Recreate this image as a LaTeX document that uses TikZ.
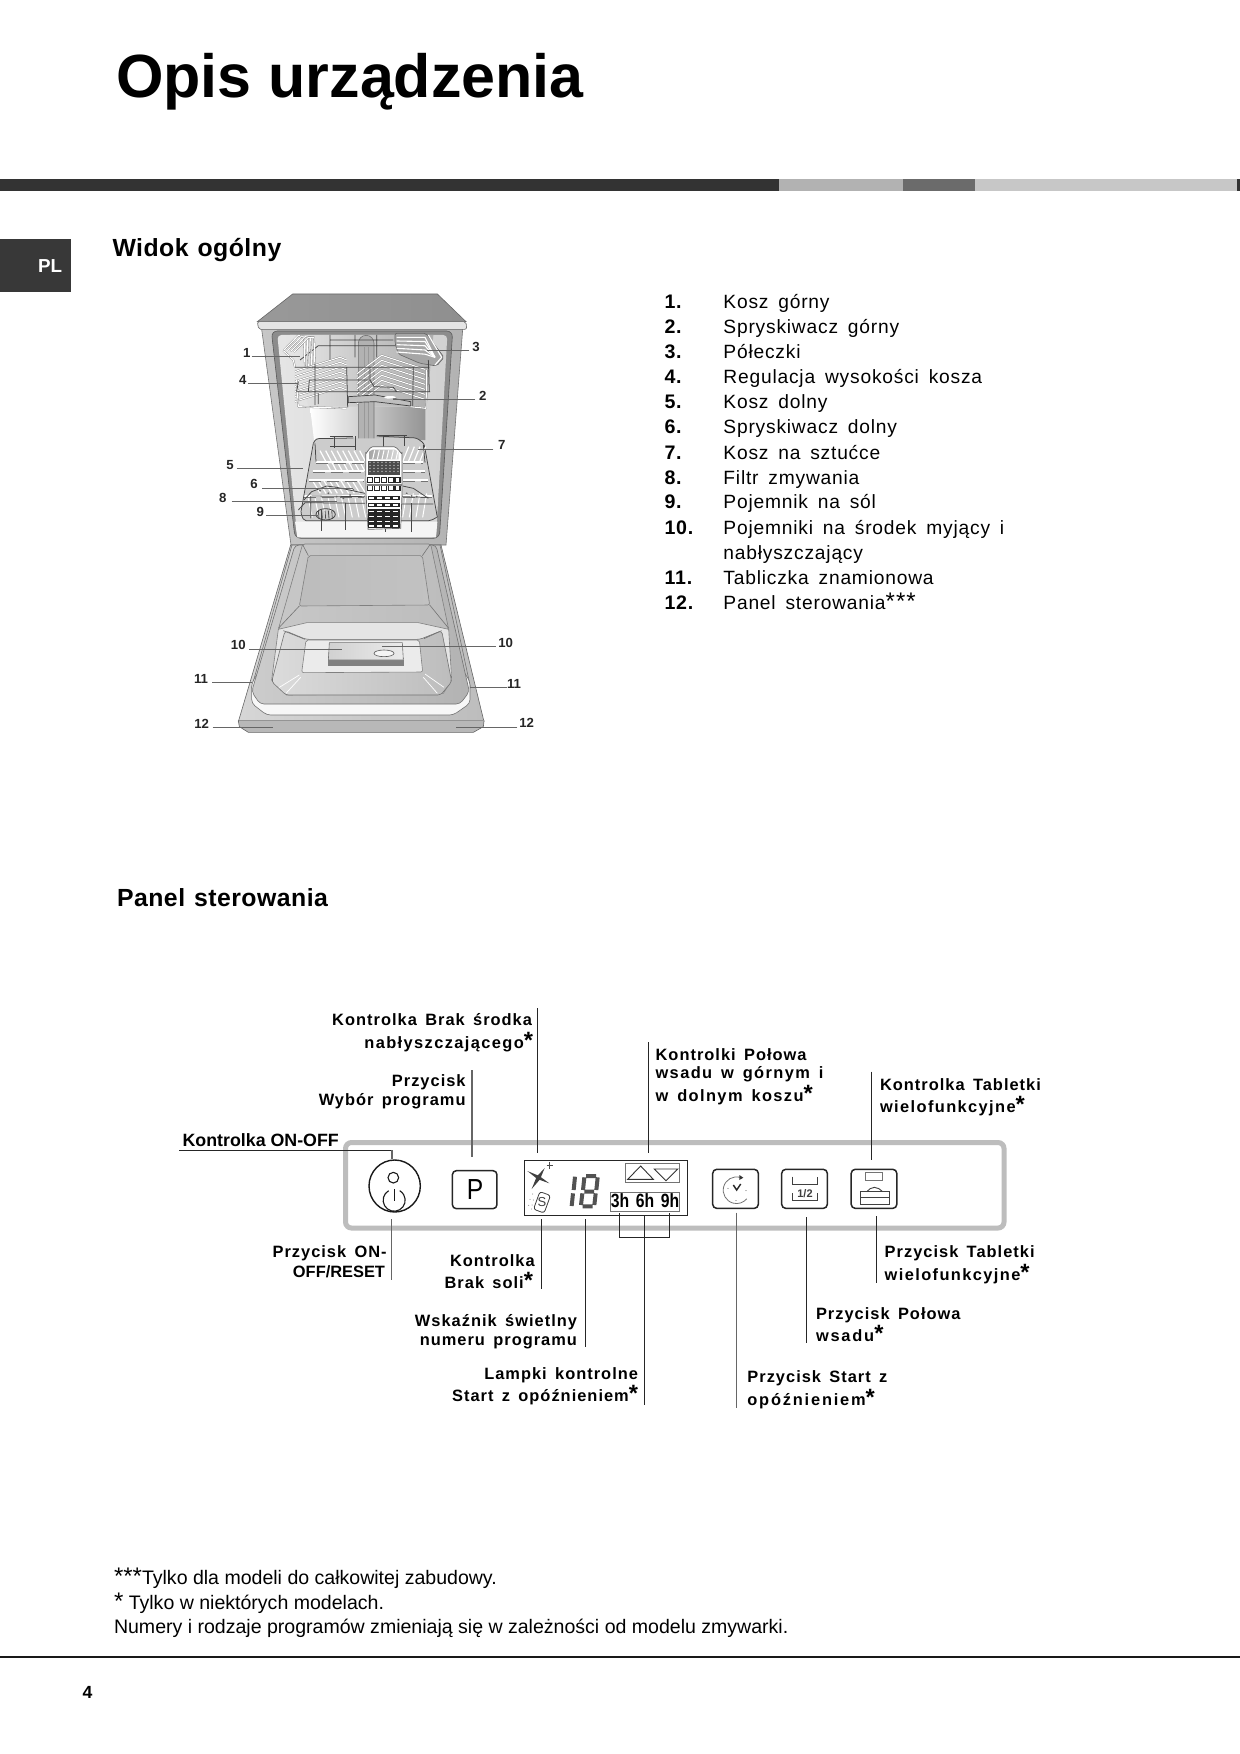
\documentclass[tikz,border=0pt]{standalone}
\usepackage{fontspec}
\setmainfont{Liberation Sans}
\newfontfamily\labfont{Liberation Sans}[LetterSpace=6.2,WordSpace=1.5]
\newfontfamily\labwfont{Liberation Sans}[LetterSpace=11,WordSpace=1.5]
\newfontfamily\labmfont{Liberation Sans}[LetterSpace=8.5,WordSpace=1.5]
\newfontfamily\listfont{Liberation Sans}[LetterSpace=4.2,WordSpace=1.6]
\newfontfamily\headfont{Liberation Sans}[LetterSpace=2,WordSpace=1.2]
\usetikzlibrary{arrows.meta}
\tikzset{
  txt/.style={inner sep=0pt,outer sep=0pt,anchor=base west},
  lab/.style={txt,font=\labfont\bfseries\fontsize{8.2}{10}\selectfont},
  labw/.style={txt,font=\labwfont\bfseries\fontsize{8.2}{10}\selectfont},
  labm/.style={txt,font=\labmfont\bfseries\fontsize{8.2}{10}\selectfont},
  tight/.style={txt,font=\bfseries\fontsize{8.2}{10}\selectfont},
  tightb/.style={txt,font=\bfseries\fontsize{8.9}{10}\selectfont},
  listnum/.style={txt,font=\listfont\bfseries\fontsize{9.8}{12}\selectfont},
  listtxt/.style={txt,font=\listfont\fontsize{9.6}{12}\selectfont},
  head/.style={txt,font=\headfont\bfseries\fontsize{12.4}{14}\selectfont},
  foot/.style={txt,font=\fontsize{9.77}{11}\selectfont},
  callnum/.style={inner sep=0pt,font=\bfseries\fontsize{6.6}{8}\selectfont,text=black!85},
  leader/.style={draw=black!85,line width=0.42pt},
  leaderg/.style={draw=black!60,line width=0.65pt},
  callline/.style={draw=black!60,line width=0.3pt},
  btn/.style={draw=black!85,line width=0.75pt,rounded corners=2pt,fill=white},
  wire/.style={white,line width=0.55pt,line join=round},
  wireg/.style={black!55,line width=0.85pt,line join=round},
  dk/.style={black!72,line width=0.38pt,line join=round},
  edge/.style={draw=black!55,line width=0.3pt,line join=round},
}
\newcommand\stx{{\fontsize{11.8}{12}\selectfont\labfont *}}
\newcommand\stn{{\fontsize{12}{12}\selectfont\mdseries ***}}
\newcommand\vlead[5][leader]{\coordinate (#2a) at (#3,#4);\coordinate (#2b) at (#3,#5);\draw[#1] (#2a) -- (#2b);}
\newcommand\callout[8]{\node[callnum] (#1) at (#2,#3) {#4};\coordinate (#1a) at (#5,#6);\coordinate (#1b) at (#7,#8);\draw[callline] (#1a) -- (#1b);}
\begin{document}
\begin{tikzpicture}[x=0.5pt,y=-0.5pt]
\useasboundingbox (0,0) rectangle (1240,1754);
\fill[white] (0,0) rectangle (1240,1754);
% ---- header
\node[txt,font=\bfseries\fontsize{30.5}{32}\selectfont] (title) at (116,98) {Opis urządzenia};
\fill[black!80] (0,179) rectangle (778.5,191);
\fill[black!30] (778.5,179) rectangle (903,191);
\fill[black!58] (903,179) rectangle (975,191);
\fill[black!22] (975,179) rectangle (1237,191);
\fill[black!80] (1237,179) rectangle (1240,191);
\fill[black!78] (0,239) rectangle (71,292);
\node[txt,text=white,font=\bfseries\fontsize{9.4}{10}\selectfont] (pl) at (38,273) {PL};
\node[head] (h1) at (112.5,257) {Widok ogólny};
\node[head] (h2) at (117,906) {Panel sterowania};
% ---- list
\foreach \n/\t/\y [count=\i] in {1./Kosz górny/309,2./Spryskiwacz górny/334,3./Półeczki/359,4./Regulacja wysokości kosza/384,5./Kosz dolny/409,6./Spryskiwacz dolny/434,7./Kosz na sztućce/459,8./Filtr zmywania/484,9./Pojemnik na sól/509,10./Pojemniki na środek myjący i/534,11./Tabliczka znamionowa/584}{
  \node[listnum] (ln\i) at (664.5,\y) {\n};
  \node[listtxt] (lt\i) at (723.4,\y) {\t};
}
\node[listtxt] (lt10b) at (723.4,559) {nabłyszczający};
\node[listnum] (ln12) at (664.5,609) {12.};
\node[listtxt] (lt12) at (723.4,609) {Panel sterowania\stn};
% ---- footnotes
\node[foot] (f1) at (114,1584.5) {\stn Tylko dla modeli do całkowitej zabudowy.};
\node[foot] (f2) at (114,1609) {{\fontsize{12}{12}\selectfont *} Tylko w niektórych modelach.};
\node[foot] (f3) at (114,1633) {Numery i rodzaje programów zmieniają się w zależności od modelu zmywarki.};
\draw[black!90,line width=1pt] (0,1657) -- (1240,1657);
\node[txt,font=\bfseries\fontsize{8.8}{10}\selectfont] (pg) at (82.5,1698) {4};
% ---- dishwasher (coordinates: zoomed 3x)
\begin{scope}[shift={(180,280)},x=0.1666667pt,y=-0.1666667pt]
 % top
 \shade[left color=black!40,middle color=black!14,right color=black!44,draw=black!60,line width=0.3pt] (338,42) -- (772,42) -- (858,125) -- (232,125) -- cycle;
 \filldraw[fill=black!10,draw=black!60,line width=0.3pt,rounded corners=1pt] (232,125) -- (858,125) -- (860,148) -- (236,148) -- cycle;
 % cabinet
 \shade[left color=black!22,right color=black!30,draw=black!55,line width=0.3pt] (245,148) -- (848,148) -- (798,795) -- (333,795) -- cycle;
 \filldraw[fill=black!45,draw=black!65,line width=0.3pt,rounded corners=3pt] (274,153) -- (818,153) -- (778,775) -- (345,775) -- cycle;
 \shade[left color=black!10,right color=black!18,rounded corners=2pt] (292,165) -- (802,165) -- (768,772) -- (352,772) -- cycle;
 \fill[black!4] (345,725) -- (772,725) -- (768,772) -- (352,772) -- cycle;
 \shade[left color=white,right color=black!42] (390,380) -- (736,380) -- (736,480) -- (402,480) -- cycle;
 \shade[left color=black!10,right color=black!32] (330,165) -- (760,165) -- (740,380) -- (385,380) -- cycle;
 % pipe
 \shade[left color=black!30,middle color=white,right color=black!30] (535,190) arc[start angle=180,end angle=360,x radius=23.5,y radius=24] -- (582,505) -- (535,505) -- cycle;
 \draw[edge] (535,190) arc[start angle=180,end angle=360,x radius=23.5,y radius=24] -- (582,505) (535,190) -- (535,505);
 \draw[black!40,line width=0.25pt] (552,200) -- (552,505) (566,200) -- (566,505);
 % rear rails upper
 \draw[dk] (415,197) -- (745,197) (450,180) -- (640,180) (450,165) -- (450,240) (525,165) -- (525,232) (590,165) -- (590,232) (415,197) -- (360,240);
 % left shelf
 \foreach \d in {0,10,20,30}{\draw[wireg] (312+\d,210+\d*0.2) -- (355+\d,166+\d*0.2) -- (372+\d,172) -- (375+\d,265);\draw[wire] (312+\d,210+\d*0.2) -- (355+\d,166+\d*0.2) -- (372+\d,172) -- (375+\d,265);}
 \draw[wireg] (310,212) -- (340,240) -- (345,262); \draw[wire] (310,212) -- (340,240) -- (345,262);
 % right shelf
 \filldraw[fill=black!35,draw=black!60,line width=0.3pt,rounded corners=1pt] (645,160) -- (738,160) -- (792,232) -- (770,258) -- (720,250) -- (655,222) -- (645,190) -- cycle;
 \foreach \d in {0,11,22,33,44}{\draw[wire] (650,172+\d) -- (735,172+\d*1.15) -- (765,232);}
 \draw[wire] (745,165) -- (785,232) -- (765,255);
 % plate racks
 \foreach \i in {0,...,6}{
  \begin{scope}[yshift=-2.5pt*\i]
   \draw[wireg] (345,275) -- (358,270) -- (480,232) -- (500,240);\draw[wire] (345,275) -- (358,270) -- (480,232) -- (500,240);
   \draw[wireg] (530,282) -- (605,226) -- (735,268);\draw[wire] (530,282) -- (605,226) -- (735,268);
  \end{scope}}
 \draw[wireg] (350,300) -- (355,380) -- (500,385);\draw[wire] (350,300) -- (355,380) -- (500,385);
 \draw[wireg] (740,270) -- (738,385) -- (690,380);\draw[wire] (740,270) -- (738,385) -- (690,380);
 % basket frame
 \draw[dk] (345,262) -- (748,262) (350,335) -- (750,335) (350,335) -- (355,305) (385,335) -- (388,300) -- (570,300) -- (582,320) -- (640,322) -- (650,335) (405,252) -- (405,375) (500,262) -- (503,382) (700,262) -- (698,378) (745,240) -- (748,335) (415,340) -- (415,372) (570,260) -- (570,300);
 % upper spray arm
 \filldraw[fill=black!25,draw=black!75,line width=0.35pt] (505,350) -- (585,345) -- (692,365) -- (692,378) -- (585,365) -- (505,368) -- cycle;
 \fill[white] (630,352) ellipse (18 and 4);
 % lower basket body
 \fill[black!20] (402,490) -- (408,476) -- (710,474) -- (732,490) -- (770,712) -- (752,722) -- (372,722) -- (362,700) -- cycle;
 % lower basket rear
 \draw[dk,rounded corners=1.3pt] (400,490) -- (408,476) -- (520,474) (590,468) -- (710,474) -- (732,490) -- (772,712);
 \draw[dk] (450,468) -- (520,468) (462,468) -- (462,505) (450,500) -- (525,500) (525,468) -- (525,510) (610,465) -- (610,500) (672,465) -- (672,498) (590,465) -- (680,465);
 % rows of tines
 \foreach \x in {420,437,...,540}{\draw[white,line width=0.6pt] (\x,512) -- (\x+32,572);}
 \foreach \x in {668,685,...,720}{\draw[white,line width=0.6pt] (\x+18,500) -- (\x,545);}
 \foreach \x in {395,412,...,545}{\draw[white,line width=0.6pt] (\x,598) -- (\x+26,640);}
 \foreach \x in {385,405,...,545}{\draw[white,line width=0.5pt] (\x,655) -- (\x+12,712);}
 \foreach \x in {680,700,...,750}{\draw[white,line width=0.5pt] (\x,640) -- (\x-12,712);}
 \foreach \y/\a/\b in {545/408/552,572/398/552,600/388/552,648/372/552,545/670/728,572/670/735,600/670/745,648/670/755}{\draw[white,line width=0.9pt] (\a,\y) -- (\b,\y);\draw[black!55,line width=0.3pt,dash pattern=on 6pt off 3pt] (\a,\y+5) -- (\b,\y+5);}
 % lower basket frame
 \draw[dk,rounded corners=1pt] (400,490) -- (362,700) -- (372,722) -- (752,722) -- (770,712);
 \draw[dk] (730,495) -- (735,548) (408,545) -- (405,490);
 \draw[dk] (395,648) -- (555,650) (665,650) -- (745,652) (355,690) -- (375,668) -- (555,670) (665,672) -- (760,672) (392,648) -- (392,715);
 \draw[dk] (372,660) -- (395,635) -- (440,618) -- (470,622) -- (555,640);
 \draw[dk] (668,618) -- (700,625) -- (745,655);
 \foreach \x/\y in {420/632,445/640,470/650,490/655,510/645,520/630,680/640,695/648,710/650}{\fill[black!60] (\x,\y) circle (3);}
 % legs
 \draw[dk,line width=0.55pt] (425,690) -- (425,752) (497,670) -- (497,750) (617,735) -- (617,755) (695,670) -- (695,755);
 % salt cap
 \draw[black!75,line width=0.4pt] (437,703) ellipse (29 and 17);
 \foreach \x in {415,425,...,460}{\draw[black!70,line width=0.4pt] (\x,692) -- (\x+2,716);}
 % cutlery basket
 \filldraw[fill=white,draw=black!60,line width=0.35pt] (557,530) -- (557,518) to[out=-90,in=180] (578,500) -- (642,500) to[out=0,in=-90] (666,518) -- (666,640) -- (662,745) -- (564,748) -- (558,640) -- cycle;
 \shade[left color=black!35,right color=black!15] (568,514) -- (578,509) -- (645,509) -- (656,516) -- (656,538) -- (568,538) -- cycle;
 \foreach \x in {578,592,...,650}{\draw[white,line width=0.5pt] (\x+6,511) -- (\x,538);}
 \fill[black!70] (563,542) rectangle (660,586);
 \foreach \x in {570,582,...,655}{\foreach \y in {547,556,...,582}{\fill[black!25] (\x,\y) circle (2.4);}}
 \foreach \x in {563,584,605,626,645}{\foreach \y in {592,616}{\filldraw[fill=white,draw=black!85,line width=0.8pt] (\x,\y) rectangle (\x+15,\y+15);}}
 \fill[black!50] (560,612) rectangle (666,617);
 \foreach \x in {566,590,614,638}{\foreach \y in {650,670,690,705,720,733}{\filldraw[fill=white,draw=black!85,line width=0.8pt] (\x,\y) rectangle (\x+19,\y+9);}}
 % door
 \shade[left color=black!16,right color=black!26,draw=black!60,line width=0.3pt] (332,795) -- (783,795) -- (912,1325) -- (175,1325) -- cycle;
 \draw[edge] (336,795) -- (214,1225) (780,795) -- (872,1225);
 \filldraw[fill=black!3,draw=black!55,line width=0.3pt,rounded corners=2pt] (215,1210) -- (215,1270) -- (260,1305) -- (820,1305) -- (870,1270) -- (870,1205) -- (805,1100) -- (280,1100) -- cycle;
 \shade[left color=black!20,middle color=black!8,right color=black!30,draw=black!55,line width=0.3pt,rounded corners=2pt] (345,795) -- (215,1235) -- (240,1272) -- (840,1272) -- (868,1235) -- (768,795) -- cycle;
 \shade[left color=black!22,middle color=black!6,right color=black!26,draw=black!50,line width=0.3pt,rounded corners=1pt] (368,792) -- (752,792) -- (806,1048) -- (295,1048) -- cycle;
 \shade[left color=black!26,middle color=black!5,right color=black!24,draw=black!50,line width=0.3pt,rounded corners=1pt] (385,827) -- (727,827) -- (749,975) -- (358,978) -- cycle;
 \draw[edge] (368,794) -- (385,827) (750,794) -- (727,827) (358,978) -- (295,1045) (749,975) -- (806,1045);
 \shade[left color=black!10,middle color=black!2,right color=black!10,draw=black!50,line width=0.3pt] (295,1048) -- (380,1028) -- (715,1028) -- (806,1048) -- (815,1200) -- (790,1240) -- (320,1245) -- (275,1200) -- cycle;
 \shade[left color=black!14,middle color=black!4,right color=black!26,draw=black!55,line width=0.3pt,rounded corners=1.5pt] (315,1052) -- (378,1078) -- (720,1078) -- (785,1052) -- (815,1205) -- (782,1245) -- (318,1245) -- (275,1205) -- cycle;
 \filldraw[fill=black!8,draw=black!50,line width=0.3pt,rounded corners=1pt] (378,1080) -- (718,1080) -- (728,1176) -- (365,1178) -- cycle;
 \fill[black!50] (445,1135) rectangle (671,1157);
 \shade[left color=black!18,right color=black!8,draw=black!55,line width=0.3pt] (448,1088) -- (667,1088) -- (670,1140) -- (445,1140) -- cycle;
 \draw[black!65,fill=black!4,line width=0.3pt] (612,1120) ellipse (30 and 10);
 \draw[white,line width=0.35pt] (358,1185) -- (298,1222) (362,1192) -- (318,1240) (735,1182) -- (792,1222) (730,1192) -- (772,1240);
 \draw[edge] (310,1052) -- (375,1078) (785,1052) -- (732,1076);
 % front lip
 \shade[left color=black!28,middle color=black!8,right color=black!28,draw=black!60,line width=0.3pt] (175,1322) -- (912,1322) -- (910,1340) -- (880,1357) -- (205,1357) -- (178,1340) -- cycle;
 \fill[black!42] (176,1321) rectangle (911,1324);
 % callouts
 \callout{c1}{200}{220}{1}{215}{230}{360}{230}
 \callout{c3}{888}{202}{3}{868}{210}{740}{210}
 \callout{c4}{188}{300}{4}{205}{310}{355}{310}
 \callout{c2}{908}{347}{2}{885}{358}{640}{358}
 \callout{c7}{965}{495}{7}{940}{507}{715}{507}
 \callout{c5}{150}{556}{5}{170}{565}{370}{565}
 \callout{c6}{222}{613}{6}{247}{625}{520}{625}
 \callout{c8}{128}{653}{8}{155}{665}{470}{665}
 \callout{c9}{241}{695}{9}{258}{706}{415}{706}
 \callout{c10l}{175}{1095}{10}{208}{1108}{485}{1108}
 \callout{c10r}{977}{1090}{10}{947}{1100}{605}{1100}
 \callout{c11l}{63}{1198}{11}{97}{1208}{215}{1208}
 \callout{c11r}{1002}{1212}{11}{982}{1222}{870}{1222}
 \callout{c12l}{65}{1333}{12}{98}{1342}{280}{1342}
 \callout{c12r}{1040}{1328}{12}{1012}{1342}{828}{1342}
\end{scope}
% ---- control panel
\draw[black!26,line width=2.5pt,rounded corners=3pt] (345.5,1142.5) rectangle (1004,1228);
\begin{scope}[shift={(340,1140)},x=0.1666667pt,y=-0.1666667pt]
 \draw[black!90,line width=0.7pt] (164,138) ellipse (77 and 78);
 \draw[black!90,line width=0.55pt] (160,113) circle (16);
 \draw[black!90,line width=0.55pt] (146,152) arc[start angle=240,end angle=-60,radius=33];
 \draw[black!90,line width=0.55pt] (163,148) -- (163,182);
 \node[btn,minimum width=22.3pt,minimum height=19pt,inner sep=0pt] (pbtn) at (404,149) {};
 \node[inner sep=0pt,font=\fontsize{14.5}{15}\selectfont,xscale=.85] (ptxt) at (405,150) {P};
 \draw[black!85,line width=0.75pt,fill=white] (554,62) rectangle (1042,226);
 % rinse star
 \fill[black!75] (562,93) -- (598,108) -- (628,130) -- (592,117) -- cycle;
 \fill[black!75] (575,147) -- (590,110) -- (614,84) -- (600,118) -- cycle;
 \draw[black!70,line width=0.25pt] (620,75) -- (640,75) (629,65) -- (629,87);
 % salt
 \begin{scope}[shift={(606,187)},rotate=-20]
  \draw[black!75,line width=0.4pt,rounded corners=1.3pt] (-17,-28) rectangle (17,28);
  \node[inner sep=0pt,font=\fontsize{6.5}{8}\selectfont,text=black!75] (salts) at (0,0) {S};
 \end{scope}
 \foreach \x/\y in {578/162,570/178,580/180,566/196,576/195,575/207}{\fill[black!55] (\x,\y) circle (1.5);}
 % 18
 \begin{scope}[black!68,line width=2pt]
  \draw (705,110) -- (701,150) (699,160) -- (695,198);
  \draw (733,112) -- (729,150) (727,160) -- (723,195) (773,112) -- (769,150) (767,160) -- (763,195) (738,108) -- (768,108) (733,155) -- (762,155) (728,199) -- (758,199);
 \end{scope}
 % arrows
 \draw[black!55,line width=0.4pt,fill=white] (855,70) rectangle (1018,128);
 \draw[black!80,line width=0.45pt] (863,118) -- (902,78) -- (940,118) -- cycle;
 \draw[black!80,line width=0.45pt] (943,87) -- (1013,87) -- (978,122) -- cycle;
 % hours
 \draw[black!55,line width=0.4pt,fill=white] (812,157) rectangle (1018,215);
 \node[inner sep=0pt,anchor=base,xscale=.82,font=\bfseries\fontsize{9.6}{10}\selectfont] (hrs) at (915,203) {3h\hspace{4pt}6h\hspace{4pt}9h};
 % bracket
 \coordinate (br1) at (838,220);\coordinate (br2) at (838,292);\coordinate (br3) at (989,292);\coordinate (br4) at (989,220);
 \draw[leader,line width=0.35pt] (br1) -- (br2) -- (br3) -- (br4);
\end{scope}
\begin{scope}[shift={(690,1140)},x=0.1666667pt,y=-0.1666667pt]
 \node[btn,minimum width=22.8pt,minimum height=19.5pt,inner sep=0pt] (clockb) at (136.5,146.5) {};
 \node[btn,minimum width=22.8pt,minimum height=19.5pt,inner sep=0pt] (halfb) at (343.5,146.5) {};
 \node[btn,minimum width=22.8pt,minimum height=19.5pt,inner sep=0pt] (tabb) at (552,146.5) {};
 \draw[black!55,line width=0.4pt] (150,112) arc[start angle=-75,end angle=-320,radius=40];
 \fill[black!80] (148,105) -- (160,113) -- (148,120) -- cycle;
 \draw[black!85,line width=0.7pt] (130,135) -- (140,150) -- (152,132);
 \foreach \x/\y in {114/145,168/152,138/182}{\fill[black!70] (\x,\y) circle (1.6);}
 \draw[black!75,line width=0.45pt] (308,110) -- (308,132) -- (383,132) -- (383,110) (308,160) -- (308,180) -- (383,180) -- (383,160);
 \node[inner sep=0pt,font=\bfseries\fontsize{5.5}{6}\selectfont,text=black!75] (half) at (345,160) {1/2};
 \draw[black!55,line width=0.4pt] (525,97) rectangle (578,120);
 \draw[black!75,line width=0.5pt] (510,155) rectangle (597,192) (510,172) -- (597,172);
 \draw[black!75,line width=0.45pt] (530,155) to[out=40,in=180] (553,142) to[out=0,in=140] (578,155);
\end{scope}
% ---- panel labels and leaders
\node[lab,anchor=base east] (l1) at (532,1025) {Kontrolka Brak środka};
\node[labm,anchor=base east] (l2) at (533,1048) {nabłyszczającego\stx};
\node[lab,anchor=base east] (l3) at (465.6,1086) {Przycisk};
\node[lab,anchor=base east] (l4) at (465.6,1105) {Wybór programu};
\node[tightb] (l5) at (182.6,1146.7) {Kontrolka ON-OFF};
\node[lab] (l6) at (655.6,1060) {Kontrolki Połowa};
\node[labm] (l7) at (655.6,1078) {wsadu w górnym i};
\node[labm] (l8) at (655.6,1101) {w dolnym koszu\stx};
\node[lab] (l9) at (880,1090) {Kontrolka Tabletki};
\node[labm] (l10) at (880,1112.7) {wielofunkcyjne\stx};
\node[lab,anchor=base east] (l11) at (386.7,1257.7) {Przycisk ON-};
\node[tight,anchor=base east] (l12) at (385,1277) {OFF/RESET};
\node[lab,anchor=base east] (l13) at (534.7,1266) {Kontrolka};
\node[lab,anchor=base east] (l14) at (533,1288) {Brak soli\stx};
\node[lab,anchor=base east] (l15) at (577,1326.7) {Wskaźnik świetlny};
\node[lab,anchor=base east] (l16) at (577,1345) {numeru programu};
\node[lab,anchor=base east] (l17) at (638,1379) {Lampki kontrolne};
\node[lab,anchor=base east] (l18) at (638,1401.7) {Start z opóźnieniem\stx};
\node[lab] (l19) at (747.4,1382) {Przycisk Start z};
\node[labw] (l20) at (747.4,1405) {opóźnieniem\stx};
\node[lab] (l21) at (816,1319) {Przycisk Połowa};
\node[labw] (l22) at (816,1341.7) {wsadu\stx};
\node[lab] (l23) at (884.7,1257.7) {Przycisk Tabletki};
\node[labm] (l24) at (884.7,1280.7) {wielofunkcyjne\stx};
\vlead{v1}{537}{1008}{1153}
\vlead[leaderg]{v2}{472}{1070}{1157}
\vlead{v3}{648}{1042}{1153}
\vlead{v4}{871.7}{1071.7}{1160}
\coordinate (on1) at (179,1150);\coordinate (on2) at (392,1150);\coordinate (on3) at (392,1159);
\draw[leader] (on1) -- (on2);\draw[leaderg] (on2) -- (on3);
\vlead[leaderg]{v5}{391.8}{1219}{1280}
\vlead{v6}{541}{1219}{1289}
\vlead{v7}{585.7}{1219}{1346.7}
\vlead{v8}{644.3}{1216}{1405}
\vlead[leaderg]{v9}{736.7}{1212.7}{1408}
\vlead{v10}{806}{1217}{1343}
\vlead{v11}{876.5}{1216}{1283}
\end{tikzpicture}
\end{document}
